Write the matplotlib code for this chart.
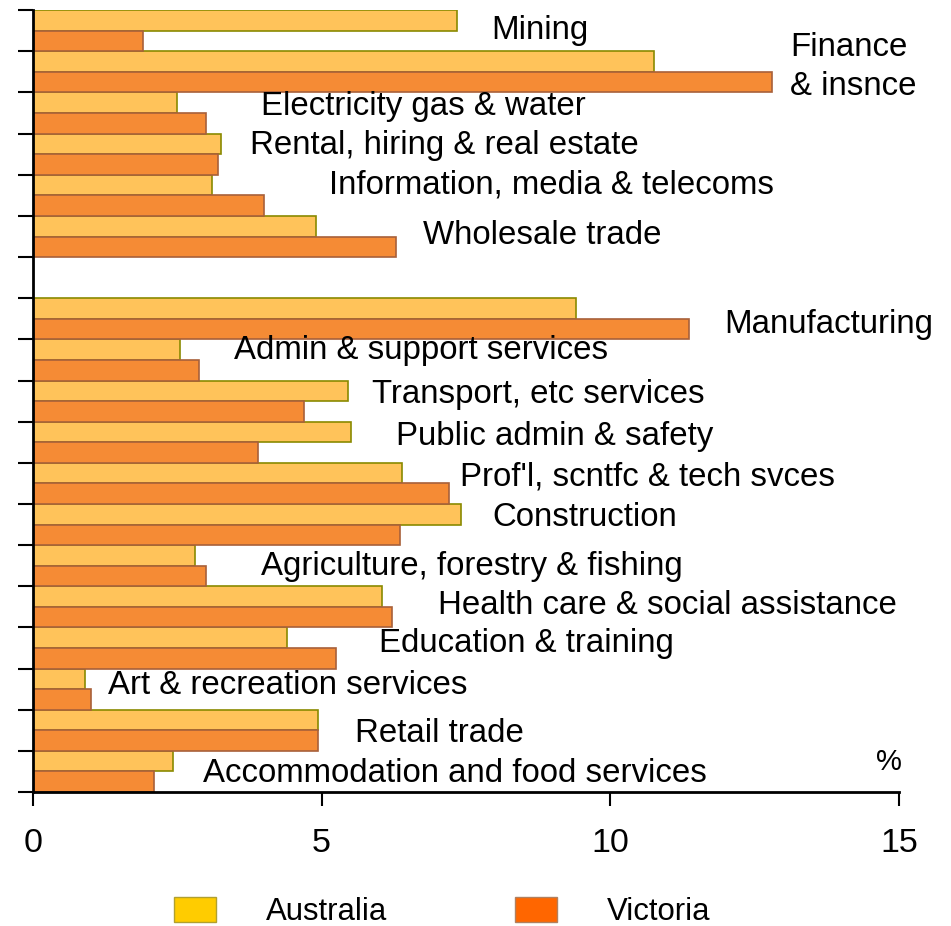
import numpy as np
import matplotlib.pyplot as plt
from matplotlib.patches import Patch

plt.rcParams['font.family'] = ['Liberation Sans', 'DejaVu Sans']

# категории сверху вниз, '' - пустой слот
categories = ['Mining', 'Finance\n& insnce', 'Electricity gas & water',
              'Rental, hiring & real estate', 'Information, media & telecoms',
              'Wholesale trade', '', 'Manufacturing', 'Admin & support services',
              'Transport, etc services', 'Public admin & safety',
              "Prof'l, scntfc & tech svces", 'Construction',
              'Agriculture, forestry & fishing', 'Health care & social assistance',
              'Education & training', 'Art & recreation services', 'Retail trade',
              'Accommodation and food services']
australia = [7.35, 10.75, 2.5, 3.25, 3.1, 4.9, np.nan, 9.4, 2.55, 5.45, 5.5,
             6.4, 7.42, 2.8, 6.05, 4.4, 0.9, 4.93, 2.43]
victoria = [1.9, 12.8, 3.0, 3.2, 4.0, 6.28, np.nan, 11.37, 2.88, 4.7, 3.9,
            7.2, 6.35, 3.0, 6.21, 5.25, 1.0, 4.93, 2.1]

# положение подписей (x, y) в координатах данных
label_pos = [(7.94, 0.0), (13.11, 0.88), (3.95, 1.83), (3.76, 2.80), (5.13, 3.75),
             (6.75, 4.97), None, (11.98, 7.15), (3.49, 7.76), (5.88, 8.85),
             (6.29, 9.85), (7.39, 10.85), (7.96, 11.82), (3.95, 13.01),
             (7.02, 13.96), (6.0, 14.88), (1.30, 15.92), (5.57, 17.07),
             (2.95, 18.04)]

fig = plt.figure(figsize=(9.51, 9.26), dpi=100)
ax = fig.add_axes([0.0347, 0.1447, 0.9106, 0.8443])

y = np.arange(len(categories))
ax.barh(y - 0.25, australia, height=0.5, color='#FFC35A', edgecolor='#8A8A00', linewidth=1.2)
ax.barh(y + 0.25, victoria, height=0.5, color='#F58B35', edgecolor='#A8603A', linewidth=1.2)

for name, pos in zip(categories, label_pos):
    if pos is None:
        continue
    ax.text(pos[0], pos[1], name, fontsize=23.8, ha='left', va='center', linespacing=1.3)
ax.text(14.83, 17.77, '%', fontsize=21, ha='center', va='center')

ax.set_xlim(0, 15)
ax.set_ylim(len(categories) - 0.5, -0.5)
ax.set_xticks([0, 5, 10, 15])
ax.set_yticks(np.arange(len(categories) + 1) - 0.5)
ax.set_yticklabels([])
ax.tick_params(axis='x', direction='out', length=10, width=1.5, labelsize=24.5, pad=16)
ax.tick_params(axis='y', direction='out', length=11, width=1.5)
ax.spines['top'].set_visible(False)
ax.spines['right'].set_visible(False)
for s in ['left', 'bottom']:
    ax.spines[s].set_linewidth(2)

handles = [Patch(facecolor='#FFCC00', edgecolor='#B0A030', label='Australia'),
           Patch(facecolor='#FF6600', edgecolor='#B08060', label='Victoria')]
fig.legend(handles=handles, loc='center', bbox_to_anchor=(0.465, 0.015), ncol=2,
           frameon=False, fontsize=22.4, handlelength=1.35, handleheight=0.84,
           handletextpad=1.6, columnspacing=4.1)

fig.savefig('out.png', dpi=100)
